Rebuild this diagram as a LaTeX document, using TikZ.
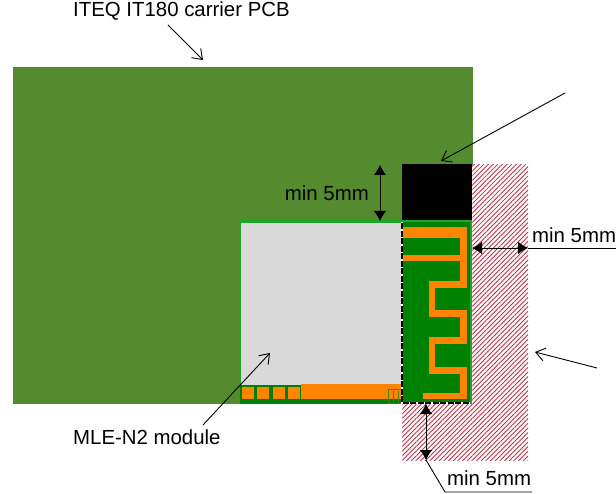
\documentclass[tikz,border=0pt]{standalone}
\usepackage{fontspec}
\setmainfont{Liberation Sans}
\usetikzlibrary{arrows.meta, patterns.meta, positioning}
\definecolor{pcbgreen}{RGB}{85,139,47}
\definecolor{antgreen}{RGB}{0,128,0}
\definecolor{edgegreen}{RGB}{30,165,40}
\definecolor{copper}{RGB}{255,133,0}
\definecolor{shield}{RGB}{217,217,217}
\definecolor{hatchred}{RGB}{165,25,55}
\tikzset{
  block/.style={anchor=north west,inner sep=0pt,outer sep=0pt,draw=none},
  keepout/.style={block,fill=red!4,postaction={pattern={Lines[angle=45,distance=3.3pt,line width=.7pt]},pattern color=hatchred}},
  pad/.style={block,fill=copper,minimum width=12pt,minimum height=12.5pt},
  trace/.style={draw=copper,line width=6.5pt},
  note/.style={inner sep=0pt,font=\fontsize{20.4}{24}\selectfont},
  pointer/.style={-{Straight Barb[length=9pt,width=13pt,line width=.9pt]},line width=.9pt},
  measure/.style={{Latex[length=10pt,width=12.5pt]}-{Latex[length=10pt,width=12.5pt]},line width=.8pt},
  leader/.style={line width=.9pt}
}
\begin{document}
\begin{tikzpicture}[x=1pt,y=-1pt]
\useasboundingbox (0,0) rectangle (616,494);
\node[block,fill=pcbgreen,minimum width=460pt,minimum height=337pt] (carrier) at (13,67) {};
\node[keepout,minimum width=126pt,minimum height=295pt] (clearance) at (402,165) {};
\node[block,fill=black,minimum width=70pt,minimum height=56.5pt] (blackout) at (402,164.5) {};
\node[block,fill=edgegreen,minimum width=232pt,minimum height=183.5pt] (moduleedge) at (240,220.5) {};
\node[block,fill=shield,minimum width=161pt,minimum height=161.5pt] (shieldcan) at (241,223) {};
\node[block,fill=antgreen,minimum width=68pt,minimum height=181pt] (antenna) at (402,222) {};
\node[block,fill=antgreen,minimum width=162pt,minimum height=19pt] (footer) at (240,385) {};
\node[block,fill=copper,minimum width=101pt,minimum height=15pt] (strip) at (301,384) {};
\node[pad] (pad1) at (242,386.5) {};
\node[pad] (pad2) at (257,386.5) {};
\node[pad] (pad3) at (272.5,386.5) {};
\node[pad] (pad4) at (288,386.5) {};
\node[block,draw=antgreen!70!copper,line width=1pt,minimum width=14pt,minimum height=14pt] (marking) at (388,389) {};
\draw[antgreen!70!copper,line width=1pt] (393.5,391) -- (393.5,402);
\draw[antgreen!70!copper,line width=1pt] (398.5,391) -- (398.5,402);

\node[block,fill=copper,minimum width=65pt,minimum height=10.5pt] (feedband) at (402,227.5) {};
\draw[trace] (463.5,233) -- (463.5,284.5) -- (432,284.5) -- (432,313.5) -- (463.5,313.5)
  -- (463.5,340.5) -- (432,340.5) -- (432,370.5) -- (463.5,370.5) -- (463.5,396) -- (423,396);
\draw[trace] (402,258) -- (463.5,258);
\draw[line width=1.2pt] (antenna.north west) -- (antenna.south west) -- (antenna.south east);
\draw[white,line width=1.2pt,dash pattern=on 1.5pt off 6pt] (antenna.north west) -- (antenna.south west) -- (antenna.south east);

\node[note,anchor=west] (carriertext) at (73,11) {ITEQ IT180 carrier PCB};
\node[note,anchor=west] (moduletext) at (73,437) {MLE-N2 module};
\node[note,anchor=east] (toptext) at (369,193) {min 5mm};
\node[note,anchor=west] (sidetext) at (532,235) {min 5mm};
\node[note,anchor=west] (lowtext) at (447,478) {min 5mm};

\coordinate (carrierfrom) at (168,25);
\coordinate (carrierto) at (203,60);
\coordinate (blackfrom) at (565,93);
\coordinate (blackto) at (441,161);
\coordinate (hatchfrom) at (597,368);
\coordinate (hatchto) at (535,352);
\coordinate (modulefrom) at (203,425);
\coordinate (moduleto) at (270,353);
\coordinate (topa) at (380,165);
\coordinate (topb) at (380,221);
\coordinate (sidea) at (472,248);
\coordinate (sideb) at (528,248);
\coordinate (sidec) at (616,248);
\coordinate (lowa) at (426,404);
\coordinate (lowb) at (426,460);
\coordinate (lowc) at (445,492);
\coordinate (lowd) at (532,492);

\draw[pointer] (carrierfrom) -- (carrierto);
\draw[pointer] (blackfrom) -- (blackto);
\draw[pointer] (hatchfrom) -- (hatchto);
\draw[pointer] (modulefrom) -- (moduleto);
\draw[measure] (topa) -- (topb);
\draw[measure] (sidea) -- (sideb);
\draw[measure] (lowa) -- (lowb);
\draw[leader] (sideb) -- (sidec);
\draw[leader] (lowb) -- (lowc) -- (lowd);
\end{tikzpicture}
\end{document}
